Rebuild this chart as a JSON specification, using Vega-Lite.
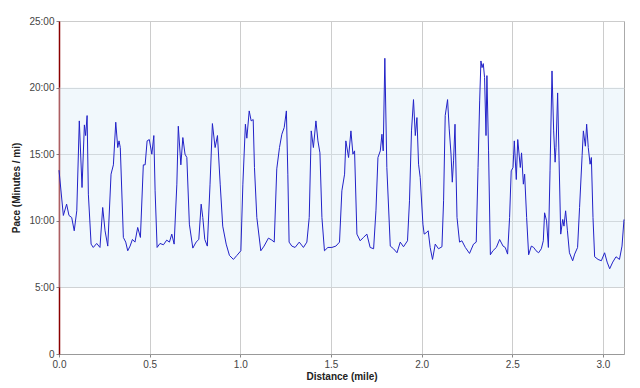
{
  "$schema": "https://vega.github.io/schema/vega-lite/v6.json",
  "width": 565,
  "height": 333,
  "autosize": "none",
  "padding": {"left": 59, "top": 21, "right": 16, "bottom": 34},
  "background": "#ffffff",
  "config": {
    "view": {"stroke": "#aaaaaa", "strokeWidth": 1},
    "font": "Liberation Sans",
    "axis": {
      "labelFont": "Liberation Sans",
      "titleFont": "Liberation Sans",
      "labelFontSize": 10,
      "labelColor": "#444444",
      "titleFontSize": 10,
      "titleFontWeight": "bold",
      "titleColor": "#222222",
      "gridColor": "#cccccc",
      "gridWidth": 1,
      "tickColor": "#888888",
      "tickSize": 3,
      "labelFlush": false
    }
  },
  "datasets": {
    "band": [{"lo": 5, "hi": 20}],
    "pace": [
      {"d": 0.000, "p": 13.8}, {"d": 0.024, "p": 10.4}, {"d": 0.042, "p": 11.25}, {"d": 0.055, "p": 10.4},
      {"d": 0.070, "p": 10.25}, {"d": 0.084, "p": 9.25}, {"d": 0.098, "p": 10.75}, {"d": 0.112, "p": 17.5},
      {"d": 0.127, "p": 12.5}, {"d": 0.140, "p": 17.2}, {"d": 0.147, "p": 16.4}, {"d": 0.155, "p": 17.9},
      {"d": 0.162, "p": 12.0}, {"d": 0.177, "p": 8.25}, {"d": 0.189, "p": 8.0}, {"d": 0.208, "p": 8.3},
      {"d": 0.226, "p": 8.0}, {"d": 0.241, "p": 11.0}, {"d": 0.254, "p": 9.25}, {"d": 0.269, "p": 8.1},
      {"d": 0.287, "p": 13.5}, {"d": 0.300, "p": 14.2}, {"d": 0.313, "p": 17.4}, {"d": 0.324, "p": 15.5},
      {"d": 0.331, "p": 16.0}, {"d": 0.338, "p": 15.5}, {"d": 0.355, "p": 8.75}, {"d": 0.368, "p": 8.4},
      {"d": 0.379, "p": 7.75}, {"d": 0.392, "p": 8.1}, {"d": 0.405, "p": 8.6}, {"d": 0.419, "p": 8.4},
      {"d": 0.434, "p": 9.5}, {"d": 0.449, "p": 8.75}, {"d": 0.465, "p": 14.2}, {"d": 0.475, "p": 14.2},
      {"d": 0.486, "p": 16.0}, {"d": 0.498, "p": 16.1}, {"d": 0.512, "p": 15.0}, {"d": 0.523, "p": 16.4},
      {"d": 0.530, "p": 12.25}, {"d": 0.541, "p": 8.0}, {"d": 0.557, "p": 8.3}, {"d": 0.576, "p": 8.2},
      {"d": 0.594, "p": 8.55}, {"d": 0.609, "p": 8.4}, {"d": 0.622, "p": 9.0}, {"d": 0.635, "p": 8.25},
      {"d": 0.650, "p": 12.75}, {"d": 0.658, "p": 17.1}, {"d": 0.672, "p": 14.2}, {"d": 0.683, "p": 16.25},
      {"d": 0.695, "p": 15.0}, {"d": 0.705, "p": 14.75}, {"d": 0.719, "p": 9.75}, {"d": 0.738, "p": 7.95},
      {"d": 0.756, "p": 8.4}, {"d": 0.771, "p": 8.6}, {"d": 0.784, "p": 11.25}, {"d": 0.793, "p": 10.25},
      {"d": 0.804, "p": 8.6}, {"d": 0.818, "p": 8.1}, {"d": 0.833, "p": 12.75}, {"d": 0.846, "p": 17.3},
      {"d": 0.861, "p": 15.5}, {"d": 0.874, "p": 16.4}, {"d": 0.889, "p": 12.75}, {"d": 0.903, "p": 9.6},
      {"d": 0.922, "p": 8.25}, {"d": 0.940, "p": 7.4}, {"d": 0.962, "p": 7.1}, {"d": 0.981, "p": 7.4},
      {"d": 1.003, "p": 7.75}, {"d": 1.014, "p": 12.75}, {"d": 1.028, "p": 17.25}, {"d": 1.036, "p": 16.2},
      {"d": 1.049, "p": 18.25}, {"d": 1.060, "p": 17.5}, {"d": 1.071, "p": 17.6}, {"d": 1.078, "p": 14.0},
      {"d": 1.091, "p": 10.25}, {"d": 1.113, "p": 7.75}, {"d": 1.131, "p": 8.1}, {"d": 1.155, "p": 8.7},
      {"d": 1.174, "p": 8.55}, {"d": 1.187, "p": 8.4}, {"d": 1.201, "p": 13.9}, {"d": 1.216, "p": 15.5},
      {"d": 1.229, "p": 16.5}, {"d": 1.242, "p": 17.0}, {"d": 1.254, "p": 18.25}, {"d": 1.262, "p": 13.5},
      {"d": 1.269, "p": 8.4}, {"d": 1.284, "p": 8.1}, {"d": 1.302, "p": 8.0}, {"d": 1.325, "p": 8.4},
      {"d": 1.348, "p": 8.0}, {"d": 1.367, "p": 8.4}, {"d": 1.380, "p": 10.25}, {"d": 1.391, "p": 16.75},
      {"d": 1.403, "p": 15.5}, {"d": 1.417, "p": 17.5}, {"d": 1.428, "p": 16.0}, {"d": 1.439, "p": 15.1},
      {"d": 1.450, "p": 10.25}, {"d": 1.464, "p": 7.75}, {"d": 1.483, "p": 8.0}, {"d": 1.505, "p": 8.0},
      {"d": 1.527, "p": 8.1}, {"d": 1.547, "p": 8.4}, {"d": 1.560, "p": 12.25}, {"d": 1.575, "p": 13.5},
      {"d": 1.582, "p": 16.0}, {"d": 1.597, "p": 14.75}, {"d": 1.610, "p": 16.75}, {"d": 1.621, "p": 15.0},
      {"d": 1.630, "p": 15.25}, {"d": 1.643, "p": 9.0}, {"d": 1.661, "p": 8.5}, {"d": 1.679, "p": 8.75},
      {"d": 1.698, "p": 9.0}, {"d": 1.716, "p": 8.0}, {"d": 1.735, "p": 7.9}, {"d": 1.748, "p": 10.75},
      {"d": 1.759, "p": 14.75}, {"d": 1.772, "p": 15.25}, {"d": 1.781, "p": 16.5}, {"d": 1.788, "p": 15.25},
      {"d": 1.797, "p": 22.2}, {"d": 1.808, "p": 14.0}, {"d": 1.827, "p": 8.1}, {"d": 1.845, "p": 7.9},
      {"d": 1.864, "p": 7.6}, {"d": 1.882, "p": 8.4}, {"d": 1.900, "p": 8.05}, {"d": 1.922, "p": 8.5},
      {"d": 1.933, "p": 11.5}, {"d": 1.944, "p": 16.75}, {"d": 1.955, "p": 19.1}, {"d": 1.965, "p": 16.4},
      {"d": 1.974, "p": 17.75}, {"d": 1.983, "p": 14.25}, {"d": 1.992, "p": 13.25}, {"d": 2.007, "p": 9.75},
      {"d": 2.014, "p": 9.0}, {"d": 2.025, "p": 9.1}, {"d": 2.036, "p": 9.25}, {"d": 2.047, "p": 8.0},
      {"d": 2.060, "p": 7.1}, {"d": 2.075, "p": 8.25}, {"d": 2.093, "p": 7.9}, {"d": 2.112, "p": 8.05},
      {"d": 2.121, "p": 11.5}, {"d": 2.130, "p": 17.9}, {"d": 2.143, "p": 19.1}, {"d": 2.152, "p": 16.9},
      {"d": 2.162, "p": 15.0}, {"d": 2.169, "p": 12.9}, {"d": 2.176, "p": 14.5}, {"d": 2.184, "p": 17.25},
      {"d": 2.195, "p": 10.25}, {"d": 2.209, "p": 8.4}, {"d": 2.222, "p": 8.5}, {"d": 2.241, "p": 8.0},
      {"d": 2.264, "p": 7.55}, {"d": 2.286, "p": 8.25}, {"d": 2.301, "p": 8.4}, {"d": 2.311, "p": 14.0},
      {"d": 2.320, "p": 19.0}, {"d": 2.327, "p": 22.0}, {"d": 2.333, "p": 21.5}, {"d": 2.340, "p": 21.8},
      {"d": 2.347, "p": 20.75}, {"d": 2.355, "p": 16.4}, {"d": 2.360, "p": 20.9}, {"d": 2.369, "p": 15.25},
      {"d": 2.379, "p": 7.45}, {"d": 2.393, "p": 7.75}, {"d": 2.412, "p": 8.0}, {"d": 2.430, "p": 8.6},
      {"d": 2.449, "p": 8.1}, {"d": 2.461, "p": 8.0}, {"d": 2.474, "p": 7.5}, {"d": 2.485, "p": 10.25},
      {"d": 2.494, "p": 13.75}, {"d": 2.504, "p": 14.0}, {"d": 2.511, "p": 16.0}, {"d": 2.522, "p": 13.1},
      {"d": 2.530, "p": 16.1}, {"d": 2.544, "p": 14.0}, {"d": 2.551, "p": 15.1}, {"d": 2.561, "p": 12.75},
      {"d": 2.568, "p": 13.5}, {"d": 2.579, "p": 10.25}, {"d": 2.590, "p": 7.45}, {"d": 2.605, "p": 8.1},
      {"d": 2.618, "p": 8.0}, {"d": 2.631, "p": 7.75}, {"d": 2.645, "p": 7.6}, {"d": 2.660, "p": 7.9},
      {"d": 2.671, "p": 8.5}, {"d": 2.678, "p": 10.6}, {"d": 2.689, "p": 10.0}, {"d": 2.699, "p": 8.0},
      {"d": 2.708, "p": 13.75}, {"d": 2.719, "p": 21.25}, {"d": 2.728, "p": 16.75}, {"d": 2.736, "p": 14.4},
      {"d": 2.741, "p": 15.5}, {"d": 2.750, "p": 19.6}, {"d": 2.758, "p": 14.5}, {"d": 2.767, "p": 9.0},
      {"d": 2.778, "p": 10.1}, {"d": 2.785, "p": 9.6}, {"d": 2.794, "p": 10.75}, {"d": 2.804, "p": 9.25},
      {"d": 2.815, "p": 7.6}, {"d": 2.833, "p": 7.0}, {"d": 2.844, "p": 7.5}, {"d": 2.860, "p": 8.0},
      {"d": 2.871, "p": 11.0}, {"d": 2.885, "p": 14.9}, {"d": 2.892, "p": 16.75}, {"d": 2.903, "p": 15.6},
      {"d": 2.910, "p": 17.25}, {"d": 2.919, "p": 15.5}, {"d": 2.929, "p": 14.25}, {"d": 2.936, "p": 14.75},
      {"d": 2.945, "p": 10.25}, {"d": 2.954, "p": 7.3}, {"d": 2.973, "p": 7.1}, {"d": 2.991, "p": 7.0},
      {"d": 3.009, "p": 7.6}, {"d": 3.023, "p": 6.9}, {"d": 3.037, "p": 6.4}, {"d": 3.054, "p": 6.9},
      {"d": 3.072, "p": 7.3}, {"d": 3.091, "p": 7.1}, {"d": 3.105, "p": 8.1}, {"d": 3.116, "p": 10.1}
    ]
  },
  "layer": [
    {
      "data": {"name": "band"},
      "mark": {"type": "rect", "color": "#dcedf8", "opacity": 0.4},
      "encoding": {
        "y": {"field": "lo", "type": "quantitative", "scale": {"domain": [0, 25]}},
        "y2": {"field": "hi"}
      }
    },
    {
      "data": {"name": "pace"},
      "mark": {"type": "line", "color": "#2222c8", "strokeWidth": 1, "interpolate": "linear"},
      "encoding": {
        "x": {
          "field": "d", "type": "quantitative",
          "scale": {"domain": [0, 3.116], "nice": false, "zero": false},
          "axis": {
            "title": "Distance (mile)", "values": [0, 0.5, 1, 1.5, 2, 2.5, 3],
            "format": ".1f", "domainColor": "#999999", "labelPadding": 2, "titlePadding": 2
          }
        },
        "y": {
          "field": "p", "type": "quantitative",
          "scale": {"domain": [0, 25], "nice": false},
          "axis": {
            "title": "Pace (Minutes / mi)", "values": [0, 5, 10, 15, 20, 25],
            "labelExpr": "datum.value == 0 ? '0' : datum.value + ':00'",
            "domainColor": "#8b0000", "domainWidth": 1.5, "labelPadding": 2, "titlePadding": 7
          }
        }
      }
    }
  ]
}
